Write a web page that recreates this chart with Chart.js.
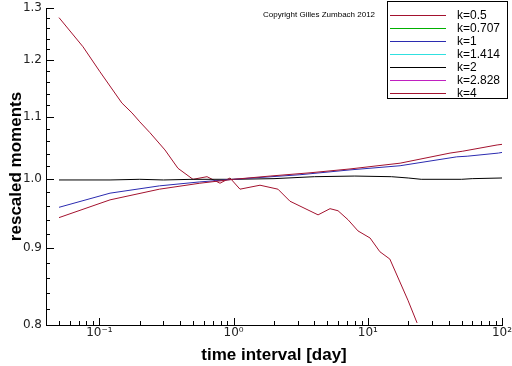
<!DOCTYPE html>
<html>
<head>
<meta charset="utf-8">
<script src="https://cdn.jsdelivr.net/npm/chart.js@4/dist/chart.umd.min.js"></script>
<style>
body { margin: 0; background: #fff; }
</style>
</head>
<body>
<canvas id="graphCanvas" width="512" height="366"></canvas>
<script>
var seriesLabels = ['k=0.5', 'k=0.707', 'k=1', 'k=1.414', 'k=2', 'k=2.828', 'k=4'];
var seriesColors = ['#a3122e', '#00b000', '#2b2bb0', '#30e0e0', '#000000', '#c020c0', '#a3122e'];

var xTickValues = [0.1, 1, 10, 100];
var xTickLabels = ['10\u207B\u00B9', '10\u2070', '10\u00B9', '10\u00B2'];
var yTickValues = [0.8, 0.9, 1.0, 1.1, 1.2, 1.3];

// k=0.5
var k05Time = [0.05, 0.12, 0.28, 0.56, 1.0, 1.87, 3.71, 7.37, 17.4, 41, 51, 92, 100];
var k05Moment = [0.943, 0.969, 0.985, 0.994, 1.0, 1.005, 1.010, 1.016, 1.025, 1.041, 1.044, 1.054, 1.055];
// k=0.707, k=1.414, k=2.828 are only in the legend
var k0707Time = [];
var k0707Moment = [];
// k=1
var k1Time = [0.05, 0.12, 0.28, 0.56, 1.0, 3.12, 7.37, 17.4, 46, 55, 94, 100];
var k1Moment = [0.958, 0.979, 0.990, 0.996, 1.0, 1.007, 1.0145, 1.021, 1.035, 1.036, 1.041, 1.042];
var k1414Time = [];
var k1414Moment = [];
// k=2
var k2Time = [0.05, 0.12, 0.2, 0.3, 0.5, 1.0, 2, 4, 8, 15, 20, 25, 50, 60, 100];
var k2Moment = [0.999, 0.999, 1.0, 0.999, 1.0, 1.0, 1.001, 1.004, 1.005, 1.004, 1.002, 1.0, 1.0, 1.001, 1.002];
var k2828Time = [];
var k2828Moment = [];
// k=4
var k4Time = [0.05, 0.0755, 0.101, 0.147, 0.175, 0.2, 0.238, 0.308, 0.385, 0.498, 0.634, 0.792, 0.94, 1.116,
    1.325, 1.573, 2.14, 2.63, 4.26, 5.23, 6.0, 7.12, 8.45, 10.4, 12.3, 14.6, 19.9, 23.3];
var k4Moment = [1.281, 1.225, 1.179, 1.124, 1.107, 1.092, 1.074, 1.046, 1.017, 1.0, 1.004, 0.994, 1.002, 0.985,
    0.988, 0.991, 0.985, 0.967, 0.947, 0.956, 0.953, 0.940, 0.924, 0.914, 0.895, 0.885, 0.831, 0.8025];

var allTimes = [k05Time, k0707Time, k1Time, k1414Time, k2Time, k2828Time, k4Time];
var allMoments = [k05Moment, k0707Moment, k1Moment, k1414Moment, k2Moment, k2828Moment, k4Moment];

function toPoints(t, m) {
    var pts = [];
    for (var n = 0; n < t.length; n++) {
        pts.push({x: t[n], y: m[n]});
    }
    return pts;
}

var datasets = [];
for (var s = 0; s < seriesLabels.length; s++) {
    datasets.push({
        label: seriesLabels[s],
        data: toPoints(allTimes[s], allMoments[s]),
        borderColor: seriesColors[s],
        backgroundColor: seriesColors[s],
        borderWidth: 1,
        pointRadius: 0,
        fill: false,
        tension: 0
    });
}

// copyright, boxed legend, then the inward tick marks
var decor = {
    id: 'decor',
    afterDraw: function(chart) {
        var c = chart.ctx;
        var xs = chart.scales.x, ys = chart.scales.y, a = chart.chartArea;
        c.save();
        c.fillStyle = '#000';
        c.font = '8px "Liberation Sans"';
        c.textBaseline = 'middle';
        c.fillText('Copyright Gilles Zumbach 2012', 263, 15);

        c.fillStyle = '#fff';
        c.fillRect(387, 1, 121, 97);
        c.fillStyle = '#000';
        c.fillRect(387, 1, 121, 1);
        c.fillRect(387, 98, 121, 1);
        c.fillRect(387, 1, 1, 98);
        c.fillRect(507, 1, 1, 98);
        c.font = '12px "Liberation Sans"';
        for (var j = 0; j < seriesLabels.length; j++) {
            var ly = Math.round(15 + j * 12.95);
            c.fillStyle = seriesColors[j];
            c.fillRect(390, ly, 56, 1);
            c.fillStyle = '#000';
            c.fillText(seriesLabels[j], 457, ly + 0.5);
        }

        var x0 = Math.round(a.left), x1 = Math.round(a.right);
        var y0 = Math.round(a.top), y1 = Math.round(a.bottom);
        c.fillStyle = '#000000';
        c.fillRect(x0, y0, 1, y1 - y0 + 1);
        c.fillRect(x0, y1, x1 - x0 + 1, 1);
        var decades = [0.01, 0.1, 1, 10];
        for (var d = 0; d < decades.length; d++) {
            for (var mm = 1; mm <= 10; mm++) {
                var tv = mm * decades[d];
                if (tv < 0.0399 || tv > 100.1) continue;
                var tx = Math.round(xs.getPixelForValue(tv));
                var tl = (mm == 1 || mm == 10) ? 7 : 4;
                c.fillRect(tx, y1 - tl, 1, tl);
            }
        }
        for (var q = 0; q <= 25; q++) {
            var ty = Math.round(ys.getPixelForValue(0.8 + 0.02 * q));
            c.fillRect(x0, ty, (q % 5 == 0) ? 8 : 4, 1);
        }
        c.restore();
    }
};

var graphTarget = document.getElementById('graphCanvas');
var lineGraph = new Chart(graphTarget, {
    type: 'line',
    data: {datasets: datasets},
    plugins: [decor],
    options: {
        responsive: false,
        animation: false,
        devicePixelRatio: 1,
        layout: {padding: {left: 0, right: 10, top: 8, bottom: 0}},
        plugins: {
            legend: {display: false},
            tooltip: {enabled: false}
        },
        scales: {
            x: {
                type: 'logarithmic',
                min: 0.04,
                max: 100,
                afterBuildTicks: function(scale) {
                    scale.ticks = xTickValues.map(function(v) { return {value: v}; });
                },
                afterFit: function(scale) {
                    scale.height = 41;
                    scale.paddingLeft = 0;
                    scale.paddingRight = 0;
                },
                grid: {display: false, drawTicks: false},
                border: {display: true, color: '#000', width: 1},
                ticks: {
                    autoSkip: false,
                    maxRotation: 0,
                    padding: 1,
                    color: '#222',
                    font: {family: 'DejaVu Sans', size: 12},
                    callback: function(value) {
                        var idx = xTickValues.indexOf(value);
                        return idx >= 0 ? xTickLabels[idx] : '';
                    }
                },
                title: {
                    display: true,
                    text: 'time interval [day]',
                    color: '#000',
                    padding: {top: 0, bottom: 0},
                    font: {family: 'Liberation Sans', size: 17, weight: 'bold'}
                }
            },
            y: {
                type: 'logarithmic',
                min: 0.8,
                max: 1.3,
                afterBuildTicks: function(scale) {
                    scale.ticks = yTickValues.map(function(v) { return {value: v}; });
                },
                afterFit: function(scale) {
                    scale.width = 46;
                    scale.paddingTop = 0;
                    scale.paddingBottom = 0;
                },
                grid: {display: false, drawTicks: false},
                border: {display: true, color: '#000', width: 1},
                ticks: {
                    autoSkip: false,
                    padding: 4,
                    color: '#222',
                    font: {family: 'DejaVu Sans', size: 12},
                    callback: function(value) { return Number(value).toFixed(1); }
                },
                title: {
                    display: true,
                    text: 'rescaled moments',
                    color: '#000',
                    padding: {top: 6, bottom: 0},
                    font: {family: 'Liberation Sans', size: 17, weight: 'bold'}
                }
            }
        }
    }
});
</script>
</body>
</html>
